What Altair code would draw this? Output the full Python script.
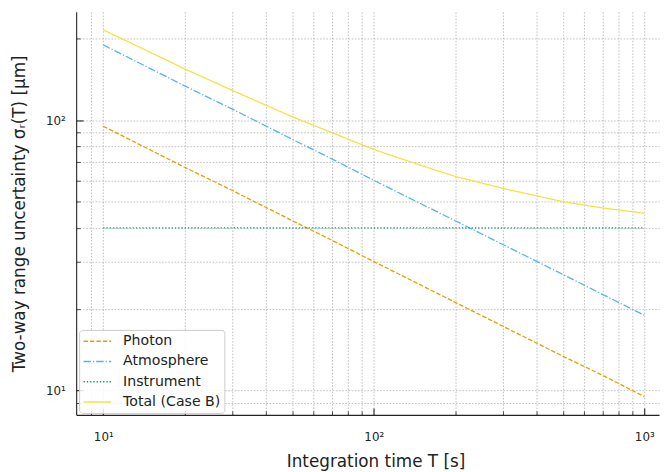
import altair as alt
import pandas as pd

# Integration time T [s]
T = [10, 15, 20, 30, 50, 70, 100, 150, 200, 300, 500, 700, 1000]
photon = [95, 77.5, 67, 55, 42.5, 36, 30, 24.5, 21.2, 17.3, 13.4, 11.4, 9.5]
atmosphere = [190, 155, 134, 110, 85, 72, 60, 49, 42.5, 34.7, 26.9, 22.7, 19]
instrument = [40, 40, 40, 40, 40, 40, 40, 40, 40, 40, 40, 40, 40]
total = [216, 178, 155, 129, 103, 90, 78, 68, 62, 56, 50, 47.4, 45.3]

series = ["Photon", "Atmosphere", "Instrument", "Total (Case B)"]
colors = ["#E69F00", "#56B4E9", "#009E73", "#F0E442"]
dashes = [[4.5, 2], [7.5, 2, 1.3, 2], [1.3, 2], [1, 0]]

x_ticks = [9, 10, 20, 30, 40, 50, 60, 70, 80, 90, 100, 200, 300, 400, 500, 600, 700, 800, 900, 1000]
y_ticks = [9, 10, 20, 30, 40, 50, 60, 70, 80, 90, 100, 200]

rows = []
for name, vals in zip(series, [photon, atmosphere, instrument, total]):
    for t, v in zip(T, vals):
        rows.append({"T": t, "sigma": v, "series": name})
df = pd.DataFrame(rows)

FONT = "DejaVu Sans"
label_expr = ("datum.value == 10 ? '10\u00b9' : datum.value == 100 ? '10\u00b2' : "
              "datum.value == 1000 ? '10\u00b3' : ''")
is_major = "(datum.value == 10 || datum.value == 100 || datum.value == 1000)"
tick_size = {"expr": is_major + " ? -7 : -4"}
tick_width = {"expr": is_major + " ? 1.1 : 0.8"}

xscale = alt.Scale(type="log", domain=[7.94, 1134], nice=False)
yscale = alt.Scale(type="log", domain=[8.13, 252], nice=False)

common_axis = dict(
    labelExpr=label_expr, ticks=True, tickSize=tick_size, tickWidth=tick_width,
    tickColor="#222", labelFontSize=12, labelFont=FONT, labelColor="#222",
    labelFlush=False, grid=True, gridColor="#b0b0b0", gridDash=[1.6, 1.6],
    gridWidth=0.8, domain=True, domainColor="#222", domainWidth=1.1,
    titleFont=FONT, titleFontSize=17, titleFontWeight="normal", titleColor="#222",
)

legend = alt.Legend(title=None, orient="none", legendX=3, legendY=322,
                    symbolType="M-1,0H3", symbolSize=196, symbolStrokeWidth=1.5,
                    labelFont=FONT, labelFontSize=14.3, labelColor="#222",
                    labelOffset=25, rowPadding=4.5, padding=3.5,
                    fillColor="rgba(255,255,255,0.85)", strokeColor="#cccccc",
                    cornerRadius=3)

lines = alt.Chart(df).mark_line(strokeWidth=1.3, clip=True).encode(
    x=alt.X("T:Q", scale=xscale,
            axis=alt.Axis(values=x_ticks, labelPadding=24,
                          title="Integration time T [s]",
                          titleX=303, titleY=39, titleBaseline="top", titleAlign="center",
                          **common_axis)),
    y=alt.Y("sigma:Q", scale=yscale,
            axis=alt.Axis(values=y_ticks, labelPadding=18,
                          title="Two-way range uncertainty σᵣ(T) [μm]",
                          titleX=-57, titleY=204, titleBaseline="middle", titleAngle=270,
                          titleAlign="center",
                          **common_axis)),
    color=alt.Color("series:N", scale=alt.Scale(domain=series, range=colors), legend=legend),
    strokeDash=alt.StrokeDash("series:N", scale=alt.Scale(domain=series, range=dashes),
                              legend=legend),
    detail="series:N",
)

chart = lines.properties(
    width=590, height=408,
    autosize=alt.AutoSizeParams(type="none"),
    padding={"left": 69, "top": 1, "right": 3, "bottom": 55},
).configure_view(stroke=None)

chart.save("out.html", embed_options={"renderer": "svg", "actions": False})
